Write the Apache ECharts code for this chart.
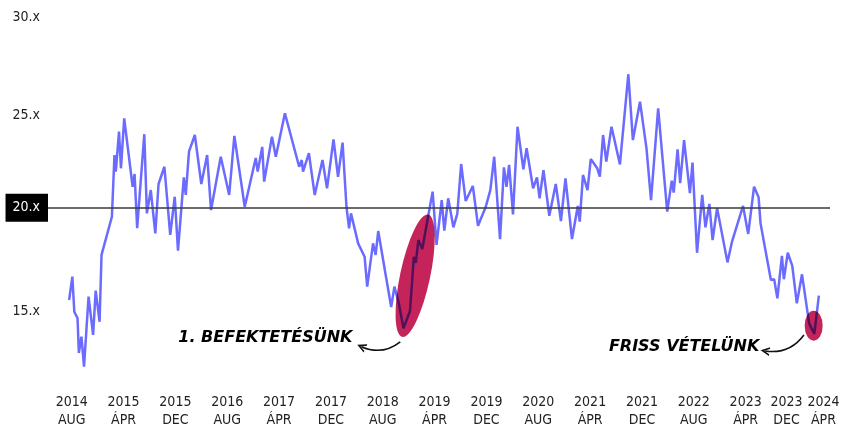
<!DOCTYPE html>
<html>
<head>
<meta charset="utf-8">
<script src="https://cdn.jsdelivr.net/npm/echarts@6/dist/echarts.min.js"></script>
<style>
  html, body { margin: 0; padding: 0; background: #fff; }
  #chart { width: 844px; height: 429px; }
</style>
</head>
<body>
<div id="chart"></div>
<script>
// months counted from 2014 AUG (0) ... 2024 APR (116)
var months = [
  -0.4, 0.1, 0.4, 0.9, 1.1, 1.5, 1.9, 2.6, 3.3, 3.7, 4.3, 4.6, 6.2, 6.6, 6.8, 7.3, 7.6, 8.1, 9.4, 9.7,
  10.1, 11.2, 11.6, 12.2, 12.9, 13.4, 14.3, 15.2, 15.9, 16.4, 17.3, 17.6, 18.1, 19.0, 20.0, 20.9, 21.5, 23.0, 24.3, 25.1,
  26.7, 28.4, 28.7, 29.4, 29.7, 30.9, 31.5, 32.9, 35.1, 35.5, 35.7, 36.6, 37.5, 38.7, 39.4, 40.4, 41.1, 41.8, 42.4, 42.8,
  43.1, 44.2, 45.2, 45.6, 46.5, 46.9, 47.3, 48.5, 49.3, 49.8, 50.5, 51.2, 52.2, 52.8, 53.1, 53.5, 54.1, 54.9, 55.7, 56.3,
  57.1, 57.5, 58.1, 58.9, 59.5, 60.1, 60.8, 61.9, 62.7, 63.9, 64.6, 65.2, 66.1, 66.7, 67.1, 67.5, 68.1, 68.8, 69.7, 70.2,
  71.2, 71.8, 72.2, 72.8, 73.7, 74.7, 75.5, 76.2, 77.2, 78.1, 78.4, 78.9, 79.6, 80.1, 81.1, 81.5, 82.0, 82.5, 83.3, 84.6,
  85.9, 86.6, 87.7, 88.7, 89.4, 90.5, 91.2, 91.9, 92.6, 92.9, 93.5, 93.9, 94.5, 95.4, 95.8, 96.5, 97.3, 97.8, 98.4, 98.9,
  99.6, 101.2, 101.9, 103.6, 104.4, 105.3, 106.0, 106.3, 107.9, 108.4, 108.9, 109.6, 109.9, 110.5, 111.2, 111.9, 112.7, 113.8, 114.6, 115.3
];
// forward P/E multiple
var ratios = [
  15.29, 16.48, 14.69, 14.36, 12.59, 13.42, 11.89, 15.46, 13.51, 15.77, 14.18, 17.59, 19.54, 22.69, 21.84, 23.88, 22.01, 24.56, 21.07, 21.72,
  18.95, 23.75, 19.71, 20.90, 18.69, 21.21, 22.09, 18.61, 20.56, 17.81, 21.55, 20.65, 22.86, 23.71, 21.21, 22.69, 19.88, 22.60, 20.65, 23.66,
  20.05, 22.54, 21.84, 23.10, 21.33, 23.62, 22.60, 24.82, 22.09, 22.43, 21.84, 22.78, 20.65, 22.43, 20.99, 23.49, 21.58, 23.32, 20.05, 18.95,
  19.71, 18.18, 17.50, 15.97, 18.18, 17.59, 18.81, 16.48, 14.93, 15.97, 15.09, 13.85, 14.73, 17.49, 17.18, 18.35, 17.89, 19.37, 20.82, 18.10,
  20.39, 18.83, 20.48, 19.00, 19.68, 22.23, 20.34, 21.11, 19.08, 20.05, 20.90, 22.60, 18.40, 22.06, 21.07, 22.18, 19.66, 24.13, 21.96, 23.03,
  20.99, 21.55, 20.48, 21.92, 19.59, 21.21, 19.32, 21.50, 18.40, 20.09, 19.29, 21.67, 20.90, 22.48, 22.01, 21.58, 23.71, 22.35, 24.13, 22.21,
  26.81, 23.45, 25.41, 23.03, 20.39, 25.07, 22.43, 19.80, 21.38, 20.77, 22.98, 21.25, 23.45, 20.74, 22.30, 17.70, 20.65, 19.00, 20.19, 18.35,
  19.97, 17.21, 18.27, 20.09, 18.66, 21.07, 20.53, 19.20, 16.31, 16.35, 15.38, 17.54, 16.35, 17.70, 17.03, 15.12, 16.60, 14.10, 13.56, 15.51
];

var tickMonths = [0, 8, 16, 24, 32, 40, 48, 56, 64, 72, 80, 88, 96, 104, 112, 116];
var tickLabels = [
  '2014\nAUG', '2015\nÁPR', '2015\nDEC', '2016\nAUG', '2017\nÁPR', '2017\nDEC', '2018\nAUG', '2019\nÁPR',
  '2019\nDEC', '2020\nAUG', '2021\nÁPR', '2021\nDEC', '2022\nAUG', '2023\nÁPR', '2023\nDEC', '2024\nÁPR'
];

var referenceLevel = 20;

// highlighted purchase moments (month, multiple)
var firstBuy = [53.0, 16.53];
var latestBuy = [114.5, 13.98];

var noteMonths = [43.4, 106.2];
var noteValues = [13.35, 12.89];
var noteTexts = ['1. BEFEKTETÉSÜNK', 'FRISS VÉTELÜNK'];

var arrowFrom = [[50.7, 13.16], [113.0, 13.51]];
var arrowTo = [[44.7, 12.91], [107.0, 12.69]];

var labelFont = "'DejaVu Sans Condensed', 'DejaVu Sans', sans-serif";
var noteFont = "'DejaVu Sans', sans-serif";
var ellipsePath = 'path://M0,50 A50,50 0 1,1 100,50 A50,50 0 1,1 0,50 Z';
var chevronPath = 'path://M0,10 L5,0 L10,10 L8,10 L5,4 L2,10 Z';

var chart = echarts.init(document.getElementById('chart'));

var lineData = months.map(function (m, i) { return [m, ratios[i]]; });
var noteData = noteMonths.map(function (m, i) { return [m, noteValues[i], noteTexts[i]]; });
var arrowData = arrowFrom.map(function (p, i) { return { coords: [p, arrowTo[i]] }; });

// one category per month for the label axes, text only where a tick label sits
var monthSlots = [];
for (var k = 0; k <= 116; k++) {
  var t = tickMonths.indexOf(k);
  monthSlots.push(t < 0 ? '' : tickLabels[t]);
}
var lastTick = tickMonths[tickMonths.length - 1];

function labelAxis(showIndex) {
  return {
    type: 'category', gridIndex: 1, data: monthSlots, boundaryGap: false,
    position: 'bottom', offset: 0,
    axisLine: { show: false }, axisTick: { show: false }, splitLine: { show: false },
    axisLabel: {
      margin: 8,
      fontFamily: labelFont,
      fontSize: 14,
      lineHeight: 18,
      color: '#222',
      interval: showIndex,
      formatter: function (v, i) {
        if (i === 112) {
          var parts = v.split('\n');
          return '{s|' + parts[0] + '}\n{s|' + parts[1] + '}';
        }
        return v;
      },
      rich: {
        s: { fontFamily: labelFont, fontSize: 14, lineHeight: 18, color: '#222', padding: [0, 22, 0, 0] }
      }
    }
  };
}

var mainLabels = labelAxis(function (i) { return i !== lastTick && tickMonths.indexOf(i) >= 0; });
var endLabel = labelAxis(function (i) { return i === lastTick; });
endLabel.axisLabel.showMaxLabel = true;

chart.setOption({
  backgroundColor: '#fff',
  animation: false,
  grid: [
    { left: 48, right: 14, top: 11.7, bottom: 25.3 },
    { left: 71.7, right: 20.6, top: 11.7, bottom: 44 }
  ],
  xAxis: [
    { type: 'value', gridIndex: 0, min: -3.66, max: 117.02, show: false },
    mainLabels,
    endLabel
  ],
  yAxis: [
    {
      type: 'value', gridIndex: 0, min: 10, max: 30, interval: 5,
      axisLine: { show: false }, axisTick: { show: false }, splitLine: { show: false },
      axisLabel: {
        margin: 0,
        align: 'right',
        formatter: function (v) {
          if (v === 10) return '';
          if (v === referenceLevel) return '{b|' + v + '.x}';
          return '{n|' + v + '.x}';
        },
        rich: {
          n: { fontFamily: labelFont, fontSize: 14, color: '#222', padding: [12, 8, 0, 0] },
          b: { fontFamily: labelFont, fontSize: 14, color: '#fff', backgroundColor: '#000', padding: [7, 8, 7, 7] }
        }
      }
    },
    { type: 'value', gridIndex: 1, min: 0, max: 1, show: false }
  ],
  series: [
    {
      type: 'line',
      xAxisIndex: 0, yAxisIndex: 0,
      data: lineData,
      showSymbol: false,
      lineStyle: { color: '#6b6bff', width: 2.5 },
      z: 2,
      markLine: {
        silent: true,
        symbol: 'none',
        label: { show: false },
        lineStyle: { color: '#3a3a3a', width: 1.5, type: 'solid' },
        data: [{ yAxis: referenceLevel }]
      }
    },
    {
      type: 'scatter',
      xAxisIndex: 0, yAxisIndex: 0,
      data: [firstBuy],
      symbol: ellipsePath,
      symbolSize: [30, 125],
      symbolRotate: -12,
      itemStyle: { color: '#c4245a', opacity: 1 },
      blendMode: 'multiply',
      z: 3
    },
    {
      type: 'scatter',
      xAxisIndex: 0, yAxisIndex: 0,
      data: [latestBuy],
      symbol: ellipsePath,
      symbolSize: [18, 30],
      itemStyle: { color: '#c4245a', opacity: 1 },
      blendMode: 'multiply',
      z: 3
    },
    {
      type: 'lines',
      coordinateSystem: 'cartesian2d',
      xAxisIndex: 0, yAxisIndex: 0,
      data: arrowData,
      symbol: ['none', chevronPath],
      symbolSize: 9,
      lineStyle: { color: '#111', width: 1.6, curveness: 0.3, opacity: 1 },
      z: 4
    },
    {
      type: 'scatter',
      xAxisIndex: 0, yAxisIndex: 0,
      data: noteData,
      symbolSize: 1,
      itemStyle: { color: 'transparent', opacity: 1 },
      label: {
        show: true,
        position: 'left',
        distance: 0,
        formatter: function (p) { return p.value[2]; },
        fontFamily: noteFont,
        fontWeight: 'bold',
        fontStyle: 'italic',
        fontSize: 16,
        color: '#000'
      },
      z: 4
    }
  ]
});
</script>
</body>
</html>
